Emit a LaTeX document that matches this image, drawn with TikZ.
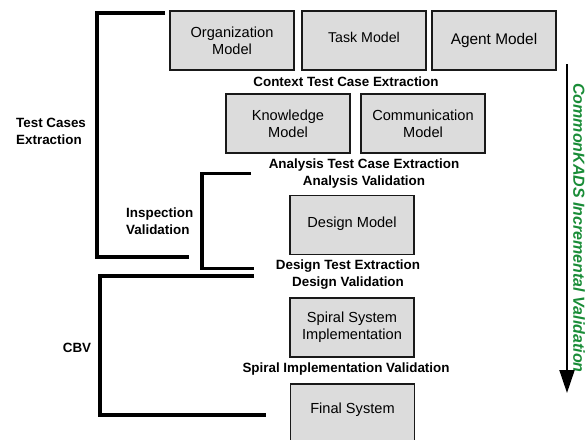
\documentclass[tikz,border=0pt]{standalone}
\usepackage{fontspec}
\setmainfont{Liberation Sans}
\usetikzlibrary{arrows.meta}
\definecolor{boxgray}{RGB}{220,220,220}
\definecolor{kadsgreen}{RGB}{25,140,55}
\tikzset{
  box/.style={draw=black!90, line width=1.5pt, fill=boxgray, minimum width=124pt, minimum height=59pt, inner sep=0pt, align=center, font=\fontsize{14.6}{17}\selectfont},
  lbl/.style={font=\bfseries\fontsize{13.4}{17}\selectfont, inner sep=0pt, align=center},
  bracket/.style={line width=3.5pt, line join=miter}
}
\begin{document}
\begin{tikzpicture}[x=1pt,y=-1pt]
\useasboundingbox (0,0) rectangle (586,439);
\clip (0,0) rectangle (586,439);
% boxes
\node[box] (org) at (232,40.5) {Organization\\Model};
\node[box, font=\fontsize{14.2}{17}\selectfont] (task) at (364,40.5) {Task Model\\[-10pt]};
\node[box, font=\fontsize{15.4}{17}\selectfont] (agent) at (494,40.5) {Agent Model};
\node[box] (know) at (288,123.5) {Knowledge\\Model};
\node[box] (comm) at (423,123.5) {Communication\\Model};
\node[box] (design) at (352,225) {Design Model\\[-12pt]};
\node[box] (spiral) at (352,327.5) {Spiral System\\Implementation};
\node[box, minimum height=64pt, anchor=north, label={[anchor=north, yshift=-16pt, font=\fontsize{14.6}{17}\selectfont]north:Final System}] (final) at (352.5,383) {};
% labels
\node[lbl] (ctx) at (346,82) {Context Test Case Extraction};
\node[lbl] (ana) at (364,173.5) {Analysis Test Case Extraction\\Analysis Validation};
\node[lbl] (des) at (348,275) {Design Test Extraction\\Design Validation};
\node[lbl] (spv) at (346,369) {Spiral Implementation Validation};
\node[lbl, align=left, anchor=west] (tce) at (16,131.5) {Test Cases\\Extraction};
\node[lbl, align=left, anchor=west] (insp) at (126,221.5) {Inspection\\Validation};
\node[lbl] (cbv) at (77,348) {CBV};
% brackets
\draw[bracket] (165,13) -- (97,13) -- (97,257) -- (189,257);
\draw[bracket] (251,173.5) -- (202,173.5) -- (202,268.5) -- (254,268.5);
\draw[bracket] (254,276) -- (100,276) -- (100,415) -- (266,415);
% arrow
\coordinate (atop) at (567,64);
\coordinate (abot) at (567,393);
\draw[line width=2pt, -{Triangle[width=15pt,length=23pt]}] (atop) -- (abot);
\node[rotate=-90, text=kadsgreen, font=\bfseries\itshape\fontsize{16}{18}\selectfont, inner sep=0pt] (kads) at (579,228) {CommonKADS Incremental Validation};
\end{tikzpicture}
\end{document}
